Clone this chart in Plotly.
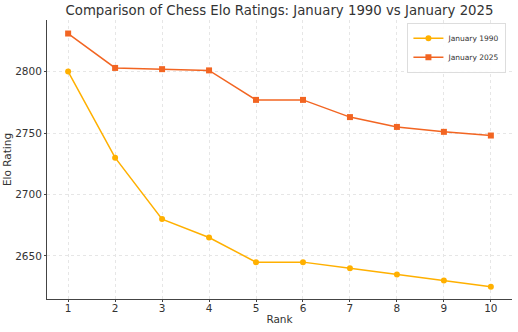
import plotly.graph_objects as go

ranks = [1, 2, 3, 4, 5, 6, 7, 8, 9, 10]
elo_1990 = [2800, 2730, 2680, 2665, 2645, 2645, 2640, 2635, 2630, 2625]
elo_2025 = [2831, 2803, 2802, 2801, 2777, 2777, 2763, 2755, 2751, 2748]
y_ticks = [2650, 2700, 2750, 2800]

fig = go.Figure()
fig.add_trace(go.Scatter(
    x=ranks, y=elo_1990, name="January 1990", mode="lines+markers",
    line=dict(color="#FFB000", width=1.5),
    marker=dict(symbol="circle", size=6, color="#FFB000"),
))
fig.add_trace(go.Scatter(
    x=ranks, y=elo_2025, name="January 2025", mode="lines+markers",
    line=dict(color="#F26522", width=1.5),
    marker=dict(symbol="square", size=6, color="#F26522"),
))

axis_font = dict(family="DejaVu Sans", size=10.5, color="#333333")
fig.update_layout(
    width=518, height=332,
    margin=dict(l=47, r=6, t=20, b=33),
    paper_bgcolor="white", plot_bgcolor="white",
    font=dict(family="DejaVu Sans", color="#333333"),
    title=dict(text="Comparison of Chess Elo Ratings: January 1990 vs January 2025",
               xref="paper", x=0.5, xanchor="center", y=0.982, yanchor="top",
               font=dict(size=13.3, color="#333333")),
    legend=dict(x=0.988, y=0.99, xanchor="right", yanchor="top",
                bgcolor="rgba(255,255,255,0.9)", bordercolor="#dddddd", borderwidth=1,
                font=dict(size=7.5, color="#333333"), tracegroupgap=0,
                itemwidth=30),
    xaxis=dict(
        range=[0.55, 10.45], tickvals=ranks, tickfont=axis_font,
        title=dict(text="Rank", font=dict(size=10.5, color="#333333"), standoff=3),
        showgrid=True, gridcolor="#e6e6e6", griddash="dot", gridwidth=0.7,
        showline=True, linecolor="#444444", linewidth=1, zeroline=False,
        ticks="outside", ticklen=2, tickcolor="#444444", ticklabelstandoff=-3,
    ),
    yaxis=dict(
        range=[2615, 2842], tickvals=y_ticks, tickfont=axis_font,
        title=dict(text="Elo Rating", font=dict(size=10.5, color="#333333"), standoff=1),
        showgrid=True, gridcolor="#e6e6e6", griddash="dot", gridwidth=0.7,
        showline=True, linecolor="#444444", linewidth=1, zeroline=False,
        ticks="outside", ticklen=2, tickcolor="#444444",
    ),
)

fig.write_html("out.html")
